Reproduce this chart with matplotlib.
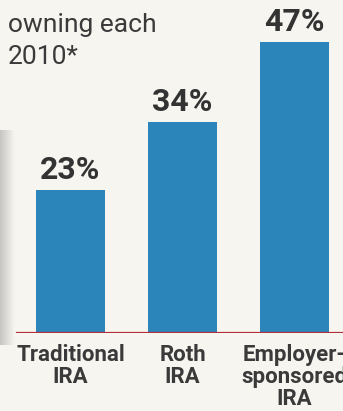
import numpy as np
import matplotlib.pyplot as plt

# data
categories = ["Traditional\nIRA", "Roth\nIRA", "Employer-\nsponsored\nIRA"]
shares = [23, 34, 47]
value_labels = ["23%", "34%", "47%"]

W, H = 343, 411
fig = plt.figure(figsize=(W / 100, H / 100), dpi=100)
fig.patch.set_facecolor("#f7f5f0")

# axes: baseline at y=333px from top, bars centered at 70.5 / 182.5 / 294.5 px
ax = fig.add_axes([0, 1 - 333 / H, 1, 333 / H])
ax.set_facecolor("none")
ax.set_xlim(-70.5 / 112, (W - 70.5) / 112)
ax.set_ylim(0, 333 / 6.2)

x = np.arange(len(shares))
ax.bar(x, shares, width=0.616, color="#2b84ba", zorder=2)
ax.axhline(0, xmin=17 / W, xmax=1, color="#b3303f", lw=1.6, zorder=3)

for xi, v, lab in zip(x, shares, value_labels):
    ax.text(xi, v + 0.8, lab, ha="center", va="bottom", fontsize=23,
            fontweight="bold", family="Roboto", color="#333333")

for s in ax.spines.values():
    s.set_visible(False)
ax.set_yticks([])
ax.set_xticks(x)
ax.set_xticklabels(categories, fontsize=16, fontweight="bold", family="Roboto",
                   color="#3a3a3a", linespacing=1.0)
ax.tick_params(axis="x", length=0, pad=8)

fig.text(8 / W, 1 - 32 / H, "owning each", ha="left", va="baseline", fontsize=19,
         family="Roboto", color="#3a3a3a")
fig.text(8 / W, 1 - 64 / H, "2010*", ha="left", va="baseline", fontsize=19,
         family="Roboto", color="#3a3a3a")

# page-curl shadow on the left edge of the scan
grad = np.linspace(0.4, 0.0, 20)[None, :]
sh = fig.add_axes([0, 1 - 345 / H, 15 / W, 215 / H])
sh.imshow(np.dstack([np.full((1, 20, 3), 0.5), grad[..., None]]), aspect="auto")
sh.axis("off")

fig.savefig("out.png", dpi=100, facecolor=fig.get_facecolor())
